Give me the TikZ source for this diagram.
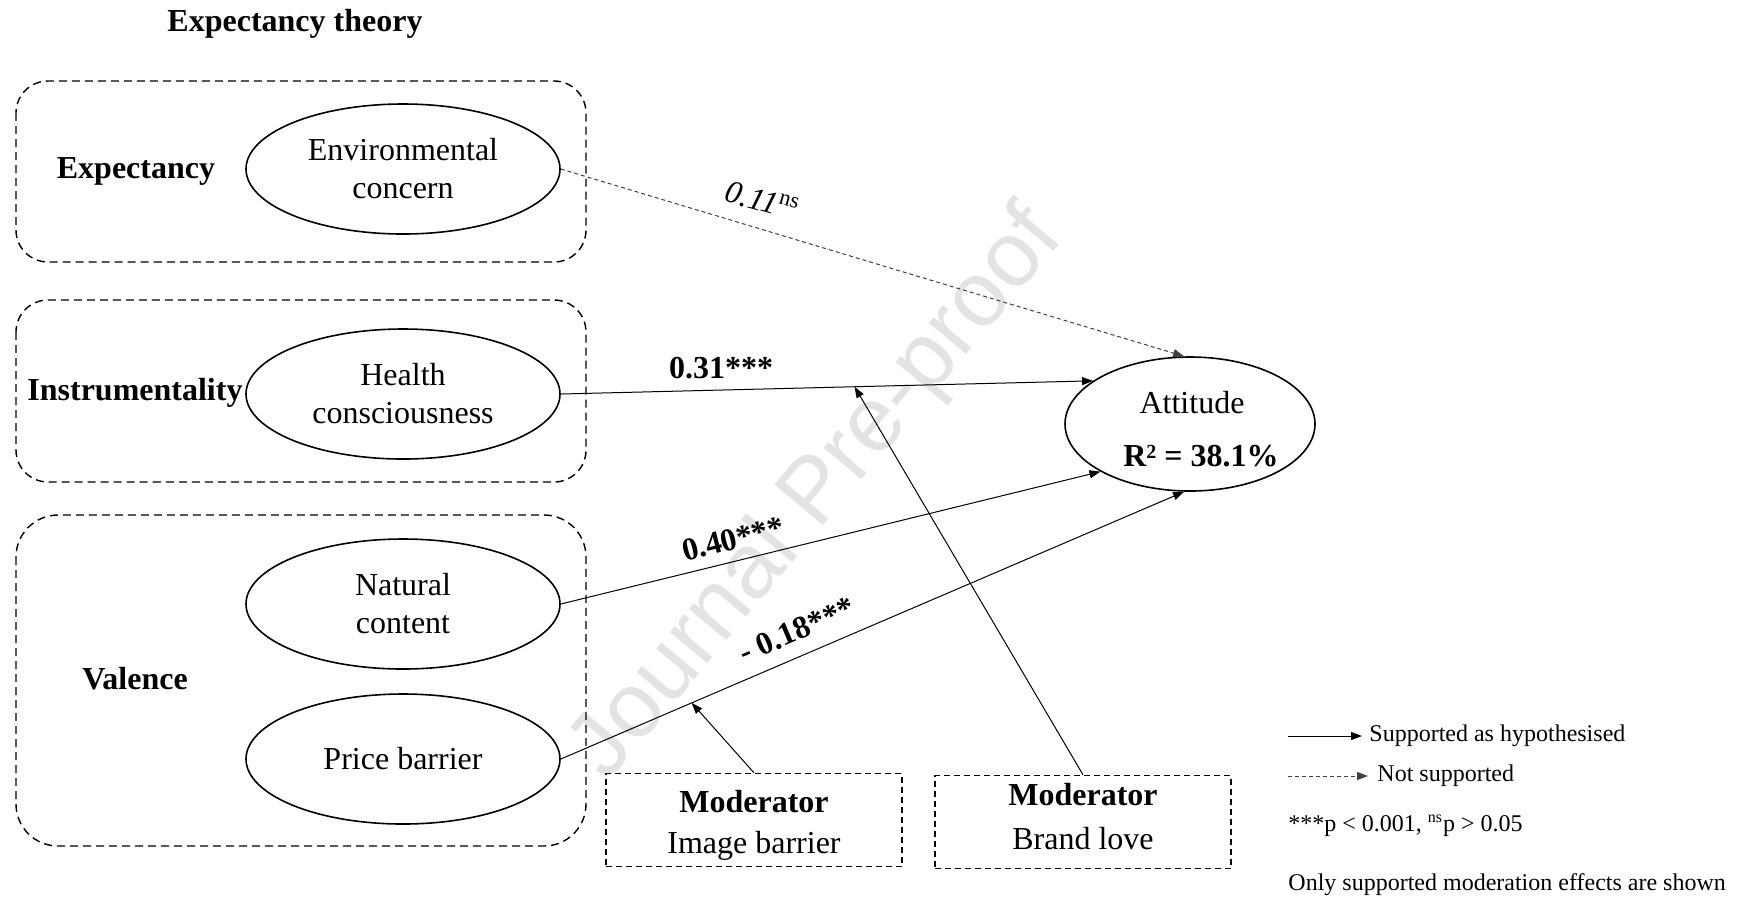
\documentclass[tikz,border=0pt]{standalone}
\usepackage{fontspec}
\setmainfont{Liberation Serif}
\newfontfamily\wmfont{Liberation Sans}
\usetikzlibrary{arrows.meta,shapes.geometric,calc}
\begin{document}
\begin{tikzpicture}[x=0.5pt,y=-0.5pt,
  every node/.style={font=\fontsize{16}{19}\selectfont, inner sep=0pt},
  construct/.style={ellipse, draw, line width=0.8pt, minimum width=157pt, minimum height=65pt, align=center},
  groupbox/.style={draw, dash pattern=on 4pt off 2.5pt, line width=0.7pt, rounded corners=#1},
  groupbox/.default=16pt,
  modbox/.style={draw, dash pattern=on 3pt off 2pt, line width=0.7pt, minimum width=148pt, minimum height=46.5pt},
  sigarrow/.style={line width=0.5pt, -{Triangle[length=5.5pt,width=4pt]}},
  nsarrow/.style={sigarrow, dash pattern=on 2pt off 1.5pt, draw=black!75},
  grouplabel/.style={font=\fontsize{16}{19}\selectfont\bfseries},
  coef/.style={font=\fontsize{16}{19}\selectfont\bfseries},
  legend/.style={font=\fontsize{12}{14}\selectfont, anchor=west},
  watermark/.style={font=\wmfont\fontsize{46}{50}\selectfont, text=black!11, rotate=50}
]
\useasboundingbox (0,0) rectangle (1764,902);

% watermark
\node[watermark] (wm) at (818,495) {Journal Pre-proof};

% title
\node[grouplabel] (title) at (295,24) {Expectancy theory};

% group boxes
\draw[groupbox] (16,81) rectangle (586,262);
\draw[groupbox] (16,300) rectangle (586,482);
\draw[groupbox=21pt] (16,515) rectangle (586,846);

\node[grouplabel] (lexp) at (136,171) {Expectancy};
\node[grouplabel] (lins) at (135,393) {Instrumentality};
\node[grouplabel] (lval) at (135,679) {Valence};

% constructs
\node[construct] (env) at (403,169) {Environmental\\concern};
\node[construct] (hea) at (403,394) {Health\\consciousness};
\node[construct] (nat) at (403,604) {Natural\\content};
\node[construct] (pri) at (403,759) {Price barrier};

\node[ellipse, draw, line width=0.8pt, minimum width=125pt, minimum height=67pt] (att) at (1190,424) {};
\node (attT) at (1192,403) {Attitude};
\node[font=\fontsize{16}{19}\selectfont\bfseries] (attR) at (1201,456) {R\raisebox{0.55ex}{\fontsize{10}{10}\selectfont 2} = 38.1\%};

% moderators
\node[modbox] (modA) at (754,820) {};
\node[font=\fontsize{16}{19}\selectfont\bfseries] (modAt) at (754,802) {Moderator};
\node (modAs) at (754,846) {Image barrier};
\node[modbox] (modB) at (1083,822) {};
\node[font=\fontsize{16}{19}\selectfont\bfseries] (modBt) at (1083,795) {Moderator};
\node (modBs) at (1083,839) {Brand love};

% paths
\draw[nsarrow] (env.east) -- (att.95);
\draw[sigarrow] (hea.east) -- (att.156);
\draw[sigarrow] (nat.east) -- (att.208);
\draw[sigarrow] (pri.east) -- (att.265);

\coordinate (onPri) at ($(pri.east)!0.21!(att.265)$);
\coordinate (onHea) at ($(hea.east)!0.552!(att.156)$);
\draw[sigarrow] (modA.north) -- (onPri);
\draw[sigarrow] (modB.north) -- (onHea);

% coefficients
\node[rotate=-16] (c1) at (762,200) {{\itshape 0.11}\textsuperscript{ns}};
\node[coef] (c2) at (721,368) {0.31***};
\node[coef, rotate=14] (c3) at (733,539) {0.40***};
\node[coef, rotate=23] (c4) at (797,630) {- 0.18***};

% legend
\coordinate (l1s) at (1288,736);
\coordinate (l1e) at (1362,736);
\coordinate (l2s) at (1288,776);
\coordinate (l2e) at (1368,776);
\draw[sigarrow] (l1s) -- (l1e);
\draw[nsarrow] (l2s) -- (l2e);
\node[legend] (lg1) at (1369,736) {Supported as hypothesised};
\node[legend] (lg2) at (1377,776) {Not supported};
\node[legend] (lg3) at (1288,826) {***p < 0.001, \textsuperscript{ns}p > 0.05};
\node[legend] (lg4) at (1288,885) {Only supported moderation effects are shown};
\end{tikzpicture}
\end{document}
